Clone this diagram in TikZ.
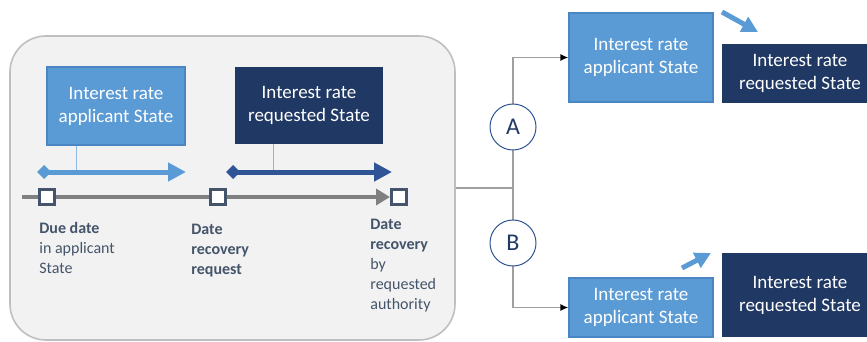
\documentclass[tikz,border=0pt]{standalone}
\usepackage{fontspec}
\setmainfont{Carlito}
\usetikzlibrary{arrows.meta}
\definecolor{appblue}{HTML}{5B9BD5}
\definecolor{appedge}{HTML}{4A86C4}
\definecolor{reqnavy}{HTML}{203864}
\definecolor{reqarrow}{HTML}{2F5597}
\definecolor{slate}{HTML}{44546A}
\definecolor{panelgray}{HTML}{F2F2F2}
\definecolor{paneledge}{HTML}{BFBFBF}
\tikzset{
  box/.style={align=center, text=white, inner sep=0pt, font=\fontsize{9.5}{11.5}\selectfont},
  applicant/.style={box, fill=appblue, draw=appedge, line width=0.6pt},
  requested/.style={box, fill=reqnavy},
  tickbox/.style={draw=slate, fill=white, line width=1.5pt, minimum size=7.5pt, inner sep=0pt},
  datelabel/.style={anchor=north west, align=left, inner sep=0pt, text=slate, font=\fontsize{8}{10}\selectfont},
  choice/.style={circle, draw=reqarrow, fill=white, line width=0.5pt, minimum size=23pt, inner sep=0pt, text=reqnavy, font=\fontsize{12}{12}\selectfont},
  span/.style={line width=2.5pt, {Diamond[length=7pt,width=7pt]}-{Triangle[length=9pt,width=9pt]}},
  hint/.style={line width=2.5pt, -{Triangle[length=8pt,width=8pt]}, appblue},
  link/.style={draw=gray!75, line width=0.7pt}
}
\begin{document}
\begin{tikzpicture}[x=0.5pt,y=-0.5pt]
\useasboundingbox (0,0) rectangle (867,342);
\clip (0,0) rectangle (867,342);
\node[draw=paneledge, fill=panelgray, line width=0.8pt, rounded corners=18pt,
      minimum width=222.5pt, minimum height=152pt] (panel) at (232.5,188) {};

\node[applicant, minimum width=69pt, minimum height=39pt] (box1) at (116,106) {Interest rate\\applicant State};
\node[requested, minimum width=74pt, minimum height=38.5pt] (box2) at (309,105.5) {Interest rate\\requested State};

\draw[appblue!70, line width=0.8pt] (box1.south west) ++(30,0) -- ++(0,27);
\draw[appblue!70, line width=0.8pt] (box2.south west) ++(39,0) -- ++(0,28);

\coordinate (s1) at (37,172);
\coordinate (e1) at (186,172);
\coordinate (s2) at (226,172);
\coordinate (e2) at (392,172);
\draw[span, appblue] (s1) -- (e1);
\draw[span, reqarrow] (s2) -- (e2);

\node[tickbox] (t1) at (47,197) {};
\node[tickbox] (t2) at (218,197) {};
\node[tickbox] (t3) at (399,197) {};
\coordinate (t0) at (22,197);
\draw[gray, line width=2pt, -{Triangle[length=7pt,width=8pt]}] (t0) -- (t3.west);
\node[tickbox] at (t1) {};
\node[tickbox] at (t2) {};

\node[datelabel] (l1) at (39,222) {\textbf{Due date}\\in applicant\\State};
\node[datelabel] (l2) at (191,224) {\textbf{Date}\\\textbf{recovery}\\\textbf{request}};
\node[datelabel] (l3) at (370,219) {\textbf{Date}\\\textbf{recovery}\\by\\requested\\authority};

\node[applicant, minimum width=72pt, minimum height=44.5pt] (topapp) at (641,57.5) {Interest rate\\applicant State};
\node[requested, minimum width=78pt, minimum height=29.5pt] (topreq) at (800,73.5) {Interest rate\\requested State};
\node[applicant, minimum width=72pt, minimum height=29.5pt] (botapp) at (641,307.5) {Interest rate\\applicant State};
\node[requested, minimum width=78pt, minimum height=42pt] (botreq) at (800,295) {Interest rate\\requested State};

\coordinate (jn) at (513,188);
\draw[link] (panel.east) -- (jn);
\draw[link, {Latex[length=4pt,width=3.5pt,black]}-{Latex[length=4pt,width=3.5pt,black]}] (topapp.west) -| (jn) |- (botapp.west);
\node[choice] (optA) at (513,127) {A};
\node[choice] (optB) at (513,243) {B};

\coordinate (h1) at (722,12);
\coordinate (h2) at (758,32);
\coordinate (h3) at (682,268);
\coordinate (h4) at (711,253);
\draw[hint] (h1) -- (h2);
\draw[hint] (h3) -- (h4);
\end{tikzpicture}
\end{document}
